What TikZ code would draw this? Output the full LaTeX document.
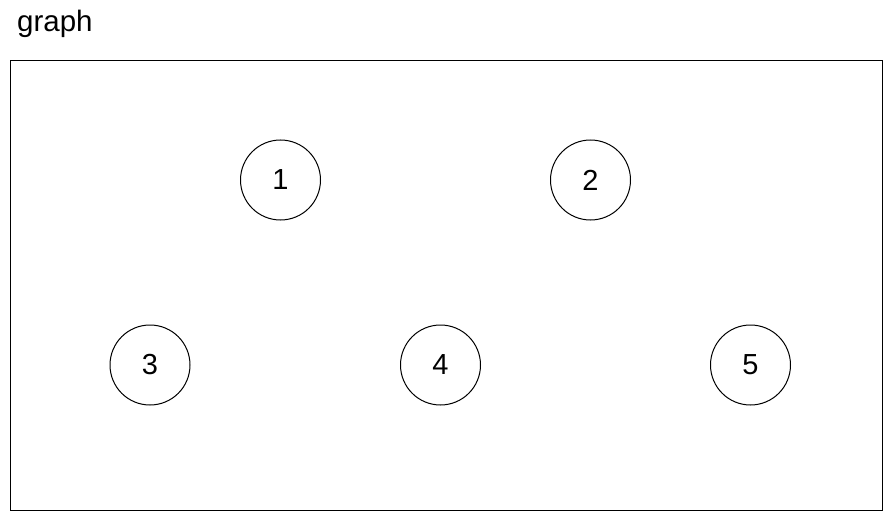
\documentclass[tikz,border=0pt]{standalone}
\usepackage{fontspec}
\setmainfont{Liberation Sans}
\begin{document}
\begin{tikzpicture}[x=1pt,y=-1pt,
  vertex/.style={draw=black,circle,minimum size=80pt,inner sep=0pt,line width=1pt,font=\fontsize{29}{34}\selectfont},
  frame/.style={draw=black,line width=1pt}]
\useasboundingbox (0,0) rectangle (892,511);
\node[anchor=base west,inner sep=0pt,font=\fontsize{29.5}{34}\selectfont] (title) at (17,32) {graph};
\draw[frame] (10.5,61) rectangle (882,510);
\node[vertex] (n1) at (280.5,180) {1};
\node[vertex] (n2) at (590.5,180) {2};
\node[vertex] (n3) at (150,365) {3};
\node[vertex] (n4) at (440.5,365) {4};
\node[vertex] (n5) at (750.5,365) {5};
\end{tikzpicture}
\end{document}
